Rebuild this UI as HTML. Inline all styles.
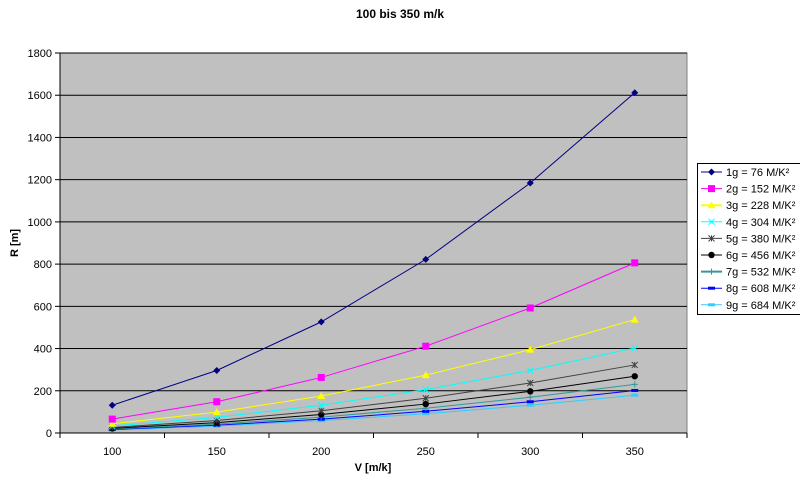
<!DOCTYPE html>
<html><head><meta charset="utf-8"><style>
html,body{margin:0;padding:0;background:#fff;}
svg{display:block;font-family:"Liberation Sans",Arial,sans-serif;}
</style></head><body>
<svg id="c" width="800" height="481" xmlns="http://www.w3.org/2000/svg"></svg>
<script>
const s=document.getElementById('c');
let h='';
const L=60,R=687,T=53,B=433;
const sy=v=>B-v*(B-T)/1800;
const sx=i=>L+(R-L)/6*(i+0.5);
h+=`<text x="400" y="18" text-anchor="middle" font-size="12" font-weight="bold">100 bis 350 m/k</text>`;
h+=`<rect x="${L}" y="${T}" width="${R-L}" height="${B-T}" fill="#c0c0c0" stroke="#808080"/>`;
for(let v=0;v<=1800;v+=200){const y=sy(v);
 if(v>0)h+=`<line x1="${L}" x2="${R}" y1="${y}" y2="${y}" stroke="#000" stroke-width="1"/>`;
 h+=`<line x1="${L-5}" x2="${L}" y1="${y}" y2="${y}" stroke="#000"/>`;
 h+=`<text x="${L-8}" y="${y+4}" text-anchor="end" font-size="11">${v}</text>`;}
h+=`<line x1="${L}" x2="${L}" y1="${T}" y2="${B}" stroke="#000"/>`;
h+=`<line x1="${L}" x2="${R}" y1="${B}" y2="${B}" stroke="#000"/>`;
const xs=[100,150,200,250,300,350];
for(let i=0;i<=6;i++){const x=L+(R-L)/6*i;h+=`<line x1="${x}" x2="${x}" y1="${B}" y2="${B+5}" stroke="#000"/>`;}
xs.forEach((v,i)=>h+=`<text x="${sx(i)}" y="${B+22}" text-anchor="middle" font-size="11">${v}</text>`);
h+=`<text x="373" y="471" text-anchor="middle" font-size="11" font-weight="bold">V [m/k]</text>`;
h+=`<text transform="translate(18,243) rotate(-90)" text-anchor="middle" font-size="11" font-weight="bold">R [m]</text>`;
const cols=['#000080','#ff00ff','#ffff00','#00ffff','#404040','#000000','#339999','#0000ff','#33ccff'];
const mk=['d','s','t','x','*','c','+','-','-'];
function marker(x,y,m,c){
 if(m=='d')return `<polygon points="${x},${y-3.5} ${x+3.5},${y} ${x},${y+3.5} ${x-3.5},${y}" fill="${c}"/>`;
 if(m=='s')return `<rect x="${x-3.5}" y="${y-3.5}" width="7" height="7" fill="${c}"/>`;
 if(m=='t')return `<polygon points="${x},${y-4} ${x+4},${y+3} ${x-4},${y+3}" fill="${c}"/>`;
 if(m=='x')return `<path d="M${x-3} ${y-3}L${x+3} ${y+3}M${x-3} ${y+3}L${x+3} ${y-3}" stroke="${c}"/>`;
 if(m=='*')return `<path d="M${x-3} ${y-3}L${x+3} ${y+3}M${x-3} ${y+3}L${x+3} ${y-3}M${x} ${y-3}V${y+3}" stroke="${c}"/>`;
 if(m=='c')return `<circle cx="${x}" cy="${y}" r="3.2" fill="${c}"/>`;
 if(m=='+')return `<path d="M${x-3} ${y}H${x+3}M${x} ${y-3}V${y+3}" stroke="${c}"/>`;
 if(m=='-')return `<rect x="${x-3.5}" y="${y-1.5}" width="7" height="3" fill="${c}"/>`;
}
for(let n=9;n>=1;n--){const c=cols[n-1];
 const pts=xs.map((v,i)=>[sx(i),sy(v*v/(76*n))]);
 h+=`<polyline fill="none" stroke="${c}" stroke-width="1" points="${pts.map(p=>p.join(',')).join(' ')}"/>`;
 pts.forEach(p=>h+=marker(p[0],p[1],mk[n-1],c));}
h+=`<rect x="697.5" y="163.5" width="110" height="151" fill="#fff" stroke="#000"/>`;
for(let n=1;n<=9;n++){const y=172+(n-1)*16.6,c=cols[n-1];
 h+=`<line x1="701" x2="722" y1="${y}" y2="${y}" stroke="${c}" stroke-width="${n==3||n==7?2:1}"/>`;
 h+=marker(711.5,y,mk[n-1],c);
 h+=`<text x="726" y="${y+4}" font-size="11">${n}g = ${76*n} M/K²</text>`;}
s.innerHTML=h;
</script>
</body></html>
